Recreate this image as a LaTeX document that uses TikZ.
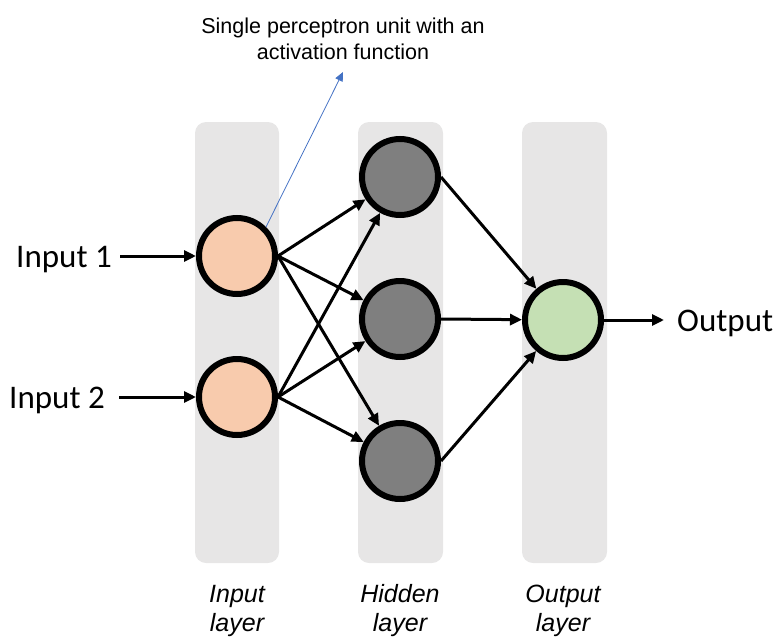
\documentclass[tikz,border=0pt]{standalone}
\usepackage{fontspec}
\setmainfont{Liberation Sans}
\newfontfamily\calfont{Carlito}
\usetikzlibrary{arrows.meta}
\definecolor{colgray}{HTML}{E7E6E6}
\definecolor{inorange}{HTML}{F8CBAD}
\definecolor{hidgray}{HTML}{7F7F7F}
\definecolor{outgreen}{HTML}{C5E0B4}
\definecolor{noteblue}{HTML}{4472C4}
\begin{document}
\begin{tikzpicture}[x=1pt,y=-1pt,
  column/.style={fill=colgray,rounded corners=11pt},
  neuron/.style={circle,draw=black,line width=6pt,minimum size=76pt,inner sep=0pt},
  conn/.style={line width=3pt,-{Triangle[length=12pt,width=11pt]}},
  iolabel/.style={font=\calfont\fontsize{33}{38}\selectfont,inner sep=0pt},
  layerlabel/.style={font=\itshape\fontsize{25}{29}\selectfont,align=center,inner sep=0pt},
  note/.style={font=\fontsize{21.5}{26}\selectfont,align=center,inner sep=0pt}]
\useasboundingbox (0,0) rectangle (776,637);
% columns
\fill[column] (195,122) rectangle (279,563);
\fill[column] (358,122) rectangle (443,563);
\fill[column] (522,122) rectangle (607,563);
% neurons
\node[neuron,fill=inorange] (i1) at (237,256) {};
\node[neuron,fill=inorange] (i2) at (237,397) {};
\node[neuron,fill=hidgray] (h1) at (400,177) {};
\node[neuron,fill=hidgray] (h2) at (400,319) {};
\node[neuron,fill=hidgray] (h3) at (400,461) {};
\node[neuron,fill=outgreen] (o) at (563,320) {};
% labels
\node[iolabel,anchor=base east] (in1) at (112,267) {Input 1};
\node[iolabel,anchor=base east] (in2) at (105,408) {Input 2};
\node[iolabel,anchor=base west] (out) at (677,331) {Output};
\coordinate (in1e) at (120,256);
\coordinate (in2e) at (119,397);
\coordinate (oute) at (664,320);
\node[note,anchor=base] (nt) at (343,59) {Single perceptron unit with an\\activation function};
\coordinate (ntarrow) at (343,72);
\node[layerlabel,anchor=base] (l1) at (237,631) {Input\\layer};
\node[layerlabel,anchor=base] (l2) at (400,631) {Hidden\\layer};
\node[layerlabel,anchor=base] (l3) at (563,631) {Output\\layer};
% connections
\draw[conn] (in1e) -- (i1);
\draw[conn] (in2e) -- (i2);
\foreach \a in {i1,i2}{
  \foreach \b in {h1,h2,h3}{
    \draw[conn] (\a.east) -- (\b);
  }
}
\foreach \b in {h1,h2,h3}{
  \draw[conn] (\b.east) -- (o);
}
\draw[conn] (o) -- (oute);
\draw[noteblue,line width=0.8pt,-{Triangle[length=9pt,width=8pt]}] (i1.45) -- (ntarrow);
\end{tikzpicture}
\end{document}
